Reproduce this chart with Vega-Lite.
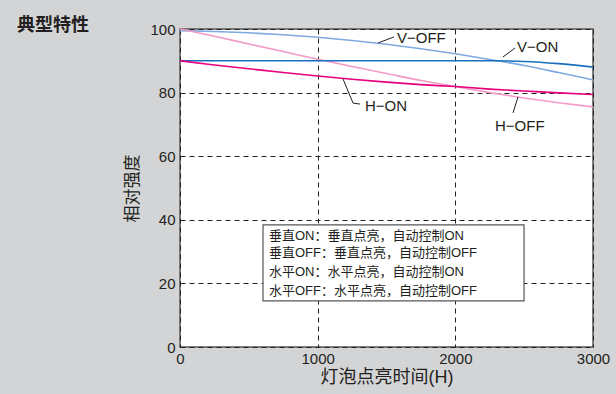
{
  "$schema": "https://vega.github.io/schema/vega-lite/v6.json",
  "width": 413,
  "height": 318,
  "autosize": "none",
  "padding": {"left": 180, "top": 29, "right": 23, "bottom": 47},
  "background": "#d3d4d5",
  "title": {"text": "典型特性", "anchor": "start", "frame": "group", "dx": -163, "dy": 25, "offset": -2, "baseline": "alphabetic", "fontSize": 18, "fontWeight": "bold", "font": "Noto Sans CJK SC", "color": "#231f20"},
  "config": {
    "view": {"fill": "white", "stroke": "#555555", "strokeWidth": 1.5},
    "font": "Liberation Sans, Noto Sans CJK SC",
    "axis": {"grid": true, "gridColor": "#222222", "gridDash": [5, 4], "gridWidth": 1, "domain": false, "ticks": false, "labelFontSize": 15, "labelColor": "#231f20", "titleFontSize": 18, "titleFontWeight": "normal", "titleColor": "#231f20", "labelFont": "Liberation Sans", "titleFont": "Liberation Sans, Noto Sans CJK SC"}
  },
  "datasets": {
    "curves": [
      {"h": 0, "v": 99.5, "s": "V-OFF"}, {"h": 250, "v": 99.2, "s": "V-OFF"}, {"h": 500, "v": 98.8, "s": "V-OFF"}, {"h": 750, "v": 98.2, "s": "V-OFF"}, {"h": 1000, "v": 97.4, "s": "V-OFF"}, {"h": 1250, "v": 96.4, "s": "V-OFF"}, {"h": 1500, "v": 95.2, "s": "V-OFF"}, {"h": 1750, "v": 93.8, "s": "V-OFF"}, {"h": 2000, "v": 92.2, "s": "V-OFF"}, {"h": 2250, "v": 90.4, "s": "V-OFF"}, {"h": 2500, "v": 88.5, "s": "V-OFF"}, {"h": 2750, "v": 86.3, "s": "V-OFF"}, {"h": 3000, "v": 84.0, "s": "V-OFF"},
      {"h": 0, "v": 100, "s": "H-OFF"}, {"h": 250, "v": 97.7, "s": "H-OFF"}, {"h": 500, "v": 95.3, "s": "H-OFF"}, {"h": 750, "v": 92.9, "s": "H-OFF"}, {"h": 1000, "v": 90.5, "s": "H-OFF"}, {"h": 1250, "v": 88.2, "s": "H-OFF"}, {"h": 1500, "v": 86.0, "s": "H-OFF"}, {"h": 1750, "v": 83.8, "s": "H-OFF"}, {"h": 2000, "v": 81.9, "s": "H-OFF"}, {"h": 2250, "v": 80.0, "s": "H-OFF"}, {"h": 2500, "v": 78.3, "s": "H-OFF"}, {"h": 2750, "v": 76.8, "s": "H-OFF"}, {"h": 3000, "v": 75.5, "s": "H-OFF"},
      {"h": 0, "v": 90, "s": "V-ON"}, {"h": 500, "v": 90, "s": "V-ON"}, {"h": 1000, "v": 90, "s": "V-ON"}, {"h": 1500, "v": 90, "s": "V-ON"}, {"h": 2000, "v": 90, "s": "V-ON"}, {"h": 2250, "v": 90, "s": "V-ON"}, {"h": 2500, "v": 89.8, "s": "V-ON"}, {"h": 2750, "v": 89.1, "s": "V-ON"}, {"h": 3000, "v": 88.0, "s": "V-ON"},
      {"h": 0, "v": 90, "s": "H-ON"}, {"h": 250, "v": 88.7, "s": "H-ON"}, {"h": 500, "v": 87.5, "s": "H-ON"}, {"h": 750, "v": 86.3, "s": "H-ON"}, {"h": 1000, "v": 85.2, "s": "H-ON"}, {"h": 1250, "v": 84.2, "s": "H-ON"}, {"h": 1500, "v": 83.3, "s": "H-ON"}, {"h": 1750, "v": 82.5, "s": "H-ON"}, {"h": 2000, "v": 81.9, "s": "H-ON"}, {"h": 2250, "v": 81.1, "s": "H-ON"}, {"h": 2500, "v": 80.5, "s": "H-ON"}, {"h": 2750, "v": 79.9, "s": "H-ON"}, {"h": 3000, "v": 79.4, "s": "H-ON"}
    ],
    "leaders": [
      {"k": "V-OFF", "o": 1, "h": 1438, "v": 95.6}, {"k": "V-OFF", "o": 2, "h": 1554, "v": 97.5},
      {"k": "V-ON", "o": 1, "h": 2346, "v": 91.2}, {"k": "V-ON", "o": 2, "h": 2433, "v": 94.0},
      {"k": "H-ON", "o": 1, "h": 1184, "v": 84.3}, {"k": "H-ON", "o": 2, "h": 1257, "v": 76.7}, {"k": "H-ON", "o": 3, "h": 1307, "v": 76.4},
      {"k": "H-OFF", "o": 1, "h": 2455, "v": 78.6}, {"k": "H-OFF", "o": 2, "h": 2419, "v": 73.6}
    ],
    "labels": [
      {"t": "V\u2212OFF", "h": 1576, "v": 97.2},
      {"t": "V\u2212ON", "h": 2448, "v": 94.3},
      {"t": "H\u2212ON", "h": 1344, "v": 75.8},
      {"t": "H\u2212OFF", "h": 2288, "v": 69.5}
    ],
    "box": [{"h1": 603, "h2": 2499, "v1": 14.5, "v2": 38.4}],
    "notes": [
      {"t": "垂直ON：垂直点亮，自动控制ON", "h": 646, "v": 34.9},
      {"t": "垂直OFF：垂直点亮，自动控制OFF", "h": 646, "v": 29.6},
      {"t": "水平ON：水平点亮，自动控制ON", "h": 646, "v": 23.6},
      {"t": "水平OFF：水平点亮，自动控制OFF", "h": 646, "v": 17.6}
    ]
  },
  "layer": [
    {
      "data": {"name": "box"},
      "mark": {"type": "rect", "fill": "white", "stroke": "#555555", "strokeWidth": 1.2},
      "encoding": {
        "x": {"field": "h1", "type": "quantitative", "scale": {"domain": [0, 3000]}, "axis": {"values": [0, 1000, 2000, 3000], "gridValues": [1000, 2000], "format": "d", "title": "灯泡点亮时间(H)", "labelPadding": 4, "titlePadding": 2, "labelFlush": false}},
        "x2": {"field": "h2"},
        "y": {"field": "v1", "type": "quantitative", "scale": {"domain": [0, 100]}, "axis": {"values": [0, 20, 40, 60, 80, 100], "gridValues": [20, 40, 60, 80], "title": "相对强度", "titleFontSize": 17, "labelPadding": 5, "titlePadding": 8}},
        "y2": {"field": "v2"}
      }
    },
    {
      "data": {"name": "curves"},
      "mark": {"type": "line", "interpolate": "monotone"},
      "encoding": {
        "x": {"field": "h", "type": "quantitative"},
        "y": {"field": "v", "type": "quantitative"},
        "color": {"field": "s", "type": "nominal", "legend": null, "scale": {"domain": ["H-OFF", "V-OFF", "V-ON", "H-ON"], "range": ["#f49ac6", "#7fa9e0", "#1a70bf", "#e5007e"]}},
        "strokeWidth": {"field": "s", "type": "nominal", "legend": null, "scale": {"domain": ["H-OFF", "V-OFF", "V-ON", "H-ON"], "range": [1.6, 1.6, 2, 2.2]}},
        "order": {"field": "h"}
      }
    },
    {
      "data": {"name": "leaders"},
      "mark": {"type": "line", "color": "#231f20", "strokeWidth": 1},
      "encoding": {
        "x": {"field": "h", "type": "quantitative"},
        "y": {"field": "v", "type": "quantitative"},
        "detail": {"field": "k"},
        "order": {"field": "o"}
      }
    },
    {
      "data": {"name": "labels"},
      "mark": {"type": "text", "align": "left", "baseline": "middle", "fontSize": 15, "color": "#231f20", "font": "Liberation Sans"},
      "encoding": {
        "x": {"field": "h", "type": "quantitative"},
        "y": {"field": "v", "type": "quantitative"},
        "text": {"field": "t"}
      }
    },
    {
      "data": {"name": "notes"},
      "mark": {"type": "text", "align": "left", "baseline": "middle", "fontSize": 13, "color": "#231f20", "font": "Liberation Sans, Noto Sans CJK SC"},
      "encoding": {
        "x": {"field": "h", "type": "quantitative"},
        "y": {"field": "v", "type": "quantitative"},
        "text": {"field": "t"}
      }
    }
  ]
}
